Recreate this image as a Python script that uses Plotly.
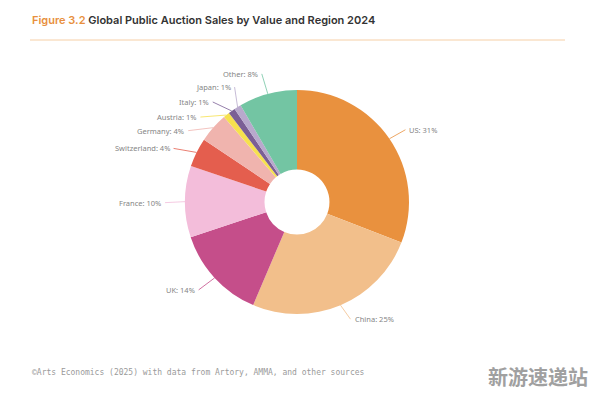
import math
import plotly.graph_objects as go

# ---- data ----
regions = ["US", "China", "UK", "France", "Switzerland", "Germany",
           "Austria", "Italy", "Japan", "Other"]
shares = [30.9, 25.5, 13.5, 10.3, 4.2, 4.3, 0.9, 1.0, 1.0, 8.4]
share_labels = ["31%", "25%", "14%", "10%", "4%", "4%", "1%", "1%", "1%", "8%"]

# ---- style ----
colors = ["#E9913E", "#F2BF8B", "#C54E8A", "#F3BDDA", "#E45E4E", "#F0B4AE",
          "#F6E14E", "#7B5F95", "#B8A9CC", "#73C5A3"]
# leader line offsets (pixels) and label side
label_offsets = [(16, -9, "left"), (10, 14, "left"), (-16, 12, "right"),
                 (-20, 1, "right"), (-23, -4, "right"), (-25, 3, "right"),
                 (-26, 2, "right"), (-19, -9, "right"), (-3, -20, "right"),
                 (-6, -20, "right")]

W, H = 596, 394
CX, CY, R = 297, 202, 112

fig = go.Figure()
fig.add_trace(go.Pie(
    labels=regions, values=shares, sort=False, direction="clockwise",
    rotation=0, hole=0.29, textinfo="none", hoverinfo="label+percent",
    marker=dict(colors=colors, line=dict(width=0)),
    domain=dict(x=[(CX - R) / W, (CX + R) / W],
                y=[1 - (CY + R) / H, 1 - (CY - R) / H]),
    showlegend=False,
))

total = sum(shares)
cum = 0.0
annotations = []
for name, v, lab, col, (ax, ay, side) in zip(regions, shares, share_labels,
                                             colors, label_offsets):
    mid = (cum + v / 2) / total * 2 * math.pi
    cum += v
    px = CX + R * math.sin(mid)
    py = CY - R * math.cos(mid)
    annotations.append(dict(
        x=px / W, y=1 - py / H, xref="paper", yref="paper",
        text=f"{name}: {lab}", showarrow=True, arrowhead=0,
        arrowwidth=0.8, arrowcolor=col, ax=ax, ay=ay,
        xanchor=side, yanchor="middle", borderpad=3,
        font=dict(family="Noto Sans", size=7.5, color="#858585"),
    ))

annotations.append(dict(
    x=30 / W, y=1 - 20 / H, xref="paper", yref="paper", showarrow=False,
    xanchor="left", yanchor="middle",
    text="<span style='color:#E8903E'>Figure 3.2</span> Global Public Auction Sales by Value and Region 2024",
    font=dict(family="Inter", size=11, color="#333333", weight=600),
))
annotations.append(dict(
    x=30 / W, y=1 - 372 / H, xref="paper", yref="paper", showarrow=False,
    xanchor="left", yanchor="middle",
    text="©Arts Economics (2025) with data from Artory, AMMA, and other sources",
    font=dict(family="DejaVu Sans Mono", size=8, color="#9a9a9a"),
))
annotations.append(dict(
    x=590 / W, y=1 - 376 / H, xref="paper", yref="paper", showarrow=False,
    xanchor="right", yanchor="middle",
    text="新游速递站",
    font=dict(family="Noto Sans CJK SC", size=20, color="#a0a0a0", weight=700),
))

fig.update_layout(
    width=W, height=H, margin=dict(l=0, r=0, t=0, b=0),
    paper_bgcolor="white", plot_bgcolor="white",
    annotations=annotations,
    shapes=[dict(type="line", xref="paper", yref="paper",
                 x0=30 / W, x1=565 / W, y0=1 - 40 / H, y1=1 - 40 / H,
                 line=dict(color="#F6CFA6", width=1))],
)

fig.write_html(
    "out.html",
    config={"displayModeBar": False},
    post_script="document.body.style.margin='0';document.body.style.overflow='hidden';",
)
